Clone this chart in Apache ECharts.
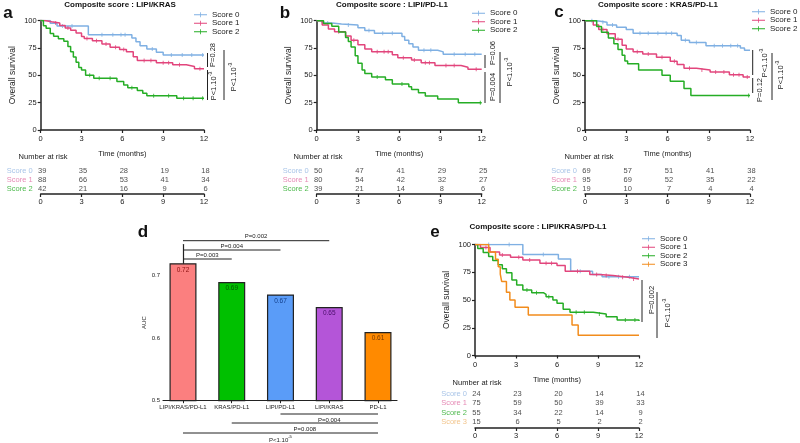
<!DOCTYPE html>
<html>
<head>
<meta charset="utf-8">
<script src="https://cdn.jsdelivr.net/npm/echarts@6/dist/echarts.min.js"></script>
<style>
  html, body { margin: 0; padding: 0; background: #fff; }
  #main { width: 800px; height: 443px; }
</style>
</head>
<body>
<div id="main"></div>
<script>
// ---- data ----
const timeTicks = [0, 3, 6, 9, 12];
const scoreNames = ['Score 0', 'Score 1', 'Score 2', 'Score 3'];

// a : LIPI/KRAS
const aTitle = 'Composite score : LIPI/KRAS';
const aCurve0 = [[0,100],[0.7,97.4],[1.2,94.9],[3.5,87],[6.7,84],[7.0,80.5],[7.3,77],[7.8,74],[8.5,71],[9.0,68.5],[12,68.5]];
const aCurve1 = [[0,100],[0.3,98.9],[0.8,97.7],[1.4,95.5],[1.8,93.2],[2.2,91],[2.6,88.5],[3.0,85.5],[3.2,83.5],[3.8,81.5],[4.5,78.5],[5.1,75.5],[5.8,73.5],[6.3,71.5],[6.8,67],[7.1,63.5],[8.5,61.5],[9.7,59.5],[10.7,58],[11.3,56],[12,56]];
const aCurve2 = [[0,100],[0.2,95.2],[0.4,92.9],[0.7,88.1],[0.95,85.7],[1.3,83.3],[1.7,81],[2.0,76.2],[2.2,71.4],[2.4,66.7],[2.6,61.9],[2.8,57.1],[3.0,54.8],[3.3,50],[3.9,47.2],[5.6,44.3],[6.1,41],[6.4,38.6],[7.1,36],[7.5,33.5],[7.8,31.3],[10.0,29],[12,29]];
const aCens0 = [1.6, 2.3, 4.5, 5.3, 5.9, 6.2, 8.2, 9.6, 10.4, 11.1, 11.9];
const aCens1 = [1.1, 2.0, 3.4, 4.1, 4.8, 5.5, 6.1, 7.6, 8.1, 9.0, 9.4, 10.2, 11.7];
const aCens2 = [3.6, 4.3, 5.1, 6.7, 8.3, 9.4, 10.5, 11.2, 11.9];
const aRisk0 = [39, 35, 28, 19, 18];
const aRisk1 = [88, 66, 53, 41, 34];
const aRisk2 = [42, 21, 16, 9, 6];

// b : LIPI/PD-L1
const bTitle = 'Composite score : LIPI/PD-L1';
const bCurve0 = [[0,100],[0.4,98],[1.1,97],[1.8,96],[3.0,93.5],[3.5,91],[4.2,88.5],[6.2,85.5],[6.4,82],[6.7,79],[7.0,76],[7.4,73],[8.8,71.5],[9.2,69.2],[12,69.2]];
const bCurve1 = [[0,100],[0.4,96],[0.85,92.5],[1.3,90],[2.1,86],[2.5,82],[3.0,78],[3.5,74],[4.0,71.5],[5.5,68.8],[5.9,66],[6.9,64],[7.6,61.5],[8.6,59],[10.5,57.5],[11.0,55.5],[12,55.5]];
const bCurve2 = [[0,100],[0.5,97.4],[1.1,94.9],[1.6,89.7],[2.1,84.6],[2.3,81],[2.5,76],[2.8,68],[3.0,61],[3.3,55],[3.5,51.8],[4.0,48.5],[5.0,46],[5.5,42],[6.7,39.5],[6.9,37],[7.4,34],[7.9,31],[8.8,28.4],[10.3,25],[12,25]];
const bCens0 = [0.8, 2.3, 3.8, 4.8, 5.5, 7.8, 8.3, 10.0, 10.8, 11.5];
const bCens1 = [1.6, 2.7, 4.4, 4.9, 5.2, 6.3, 7.1, 7.9, 8.2, 9.4, 10.0, 11.6];
const bCens2 = [4.4, 6.2, 11.9];
const bRisk0 = [50, 47, 41, 29, 25];
const bRisk1 = [80, 54, 42, 32, 27];
const bRisk2 = [39, 21, 14, 8, 6];

// c : KRAS/PD-L1
const cTitle = 'Composite score : KRAS/PD-L1';
const cCurve0 = [[0,100],[0.85,98.5],[1.6,96],[2.3,94],[3.0,92],[3.5,88.5],[6.7,86.5],[7.0,82],[7.6,80],[8.8,77],[11.3,75],[11.6,73],[12,73]];
const cCurve1 = [[0,100],[0.6,96],[1.0,92],[1.6,88],[2.2,83],[2.7,77.5],[3.0,74],[3.5,71.5],[4.2,69.5],[5.2,66.5],[6.2,63],[6.7,60],[7.2,56.5],[8.1,55],[9.1,53],[10.5,50.5],[11.5,48.5],[12,48.5]];
const cCurve2 = [[0,100],[0.85,94.7],[1.2,89.5],[1.7,84.2],[2.1,78.9],[2.4,73.7],[2.7,68.4],[2.9,63.2],[3.1,60.5],[3.9,55],[5.6,50],[6.2,44.5],[7.2,38],[7.7,31.5],[12,31.5]];
const cCens0 = [0.5, 1.3, 2.0, 4.0, 4.6, 5.3, 5.9, 6.3, 7.3, 8.1, 9.4, 10.0, 10.6, 11.1];
const cCens1 = [1.3, 2.4, 3.8, 4.6, 5.6, 6.5, 7.6, 8.5, 9.5, 10.1, 10.8, 11.2, 11.8];
const cCens2 = [11.9];
const cRisk0 = [69, 57, 51, 41, 38];
const cRisk1 = [95, 69, 52, 35, 22];
const cRisk2 = [19, 10, 7, 4, 4];

// d : AUC
const aucNames = ['LIPI/KRAS/PD-L1', 'KRAS/PD-L1', 'LIPI/PD-L1', 'LIPI/KRAS', 'PD-L1'];
const aucValues = [0.72, 0.69, 0.67, 0.65, 0.61];
const aucTicks = [0.5, 0.6, 0.7];
const aucTopPairs = [[0, 1], [0, 2], [0, 3]];
const aucTopP = ['P=0.003', 'P=0.004', 'P=0.002'];
const aucBottomPairs = [[2, 4], [1, 4], [0, 4]];
const aucBottomP = ['P=0.004', 'P=0.008', 'P<1.10^-5'];

// e : LIPI/KRAS/PD-L1
const eTitle = 'Composite score : LIPI/KRAS/PD-L1';
const eCurve0 = [[0,100],[3.5,91],[6.1,87],[7.0,76],[8.6,73],[9.3,71],[12,71]];
const eCurve1 = [[0,100],[0.4,97.3],[1.1,93.3],[1.8,90.5],[2.6,88.5],[3.5,86],[4.75,83],[6.0,81],[6.6,76],[8.4,73],[9.1,72],[10.1,70.5],[11.2,69],[12,69]];
const eCurve2 = [[0,100],[0.2,96.4],[0.6,92.7],[1.0,89.1],[1.3,85.5],[1.7,81.8],[2.0,78.2],[2.3,74.5],[2.7,68],[3.05,63.5],[3.5,59],[4.15,56.6],[5.0,55],[5.2,53],[5.7,50],[6.0,47],[6.45,41.6],[6.95,39],[8.65,37.4],[9.6,35],[10.4,32],[12,31]];
const eCurve3 = [[0,100],[1.0,93.3],[1.5,86.7],[1.7,80],[1.85,73.3],[1.95,66.7],[2.3,57],[2.55,50],[2.93,43.5],[3.9,36.5],[7.1,27.5],[7.55,18.3],[12,18.3]];
const eCens0 = [1.0, 2.5, 5.0, 7.7, 9.8, 10.5, 11.3];
const eCens1 = [0.8, 2.0, 3.2, 4.0, 5.2, 5.6, 7.5, 8.9, 9.6, 10.8, 11.6];
const eCens2 = [3.8, 4.5, 5.4, 7.4, 8.0, 9.1, 11.0, 11.7];
const eCens3 = [];
const eRisk0 = [24, 23, 20, 14, 14];
const eRisk1 = [75, 59, 50, 39, 33];
const eRisk2 = [55, 34, 22, 14, 9];
const eRisk3 = [15, 6, 5, 2, 2];

// ---- styles ----
const FONT = '"Liberation Sans", Arial, sans-serif';
const INK = '#222';
const lineColors = ['#7fb0e3', '#e2457c', '#25ad25', '#f28c1c'];
const riskLabelColors = ['#a9c5e8', '#e68bb6', '#4fba4f', '#f2c58c'];
const aucColors = ['#fb7f7f', '#00c000', '#5a9cf8', '#b455d8', '#ff8a00'];
const aucLabelColors = ['#8b1010', '#005a00', '#123e8a', '#4a0e6a', '#7a3a00'];
const legendIcon = 'path://M0,3.4h20v1.2h-20z M9.4,0h1.2v8h-1.2z';

function stepAt(curve, t) {
  let s = curve[0][1];
  curve.forEach(p => { if (p[0] <= t) s = p[1]; });
  return s;
}

const panels = [
  { title: aTitle, curves: [aCurve0, aCurve1, aCurve2], cens: [aCens0, aCens1, aCens2], risk: [aRisk0, aRisk1, aRisk2],
    km: { left: 40.7, top: 20.5, width: 163.3, height: 109.5 }, rb: { left: 40.7, top: 166, width: 163.3, height: 27 },
    legend: { left: 194, top: 10.5 }, titleX: 120, titleY: 5, letter: 'a', lx: 8, ly: 13, nar: [43, 157],
    pLines: [[207.5, 53, 67], [207.5, 70, 100], [224, 50, 100]],
    pTexts: [['P=0.28', 213, 55], ['P<1.10^-3', 213, 86], ['P<1.10^-3', 233, 77]] },
  { title: bTitle, curves: [bCurve0, bCurve1, bCurve2], cens: [bCens0, bCens1, bCens2], risk: [bRisk0, bRisk1, bRisk2],
    km: { left: 316.7, top: 20.7, width: 165, height: 109.3 }, rb: { left: 316.7, top: 166, width: 165, height: 27 },
    legend: { left: 472, top: 9 }, titleX: 392, titleY: 5, letter: 'b', lx: 285, ly: 13, nar: [318, 157],
    pLines: [[485, 55, 68], [485, 72, 103], [500, 52, 103]],
    pTexts: [['P=0.06', 493, 53], ['P=0.004', 493, 87], ['P<1.10^-3', 509, 72]] },
  { title: cTitle, curves: [cCurve0, cCurve1, cCurve2], cens: [cCens0, cCens1, cCens2], risk: [cRisk0, cRisk1, cRisk2],
    km: { left: 585, top: 20.7, width: 165, height: 109.3 }, rb: { left: 585, top: 166, width: 165, height: 27 },
    legend: { left: 752, top: 7.5 }, titleX: 658, titleY: 5, letter: 'c', lx: 559, ly: 12, nar: [589, 157],
    pLines: [[752.7, 50, 75], [752.7, 78, 93], [772, 53, 100]],
    pTexts: [['P<1.10^-3', 764, 63], ['P=0.12', 760, 90], ['P<1.10^-3', 780, 75]] },
  { title: eTitle, curves: [eCurve0, eCurve1, eCurve2, eCurve3], cens: [eCens0, eCens1, eCens2, eCens3], risk: [eRisk0, eRisk1, eRisk2, eRisk3],
    km: { left: 475, top: 244.5, width: 164, height: 111 }, rb: { left: 475, top: 389, width: 164, height: 38 },
    legend: { left: 642, top: 234.5 }, titleX: 538, titleY: 227, letter: 'e', lx: 435, ly: 232, nar: [477, 383],
    pLines: [[642, 280, 322], [657, 292, 338]],
    pTexts: [['P=0.002', 652, 300], ['P<1.10^-3', 667, 313]] }
];

const grid = [], xAxis = [], yAxis = [], series = [], legend = [];
const axisLineStyle = { show: true, onZero: false, lineStyle: { color: INK, width: 1.5 } };
const axisTickStyle = { show: true, length: 3, lineStyle: { color: INK, width: 1.2 } };

panels.forEach(p => {
  const n = p.curves.length;
  // survival plot
  grid.push(p.km);
  xAxis.push({ gridIndex: grid.length - 1, type: 'value', min: 0, max: 12, interval: 3,
    name: 'Time (months)', nameLocation: 'middle', nameGap: 20,
    nameTextStyle: { fontSize: 7.5, color: INK, fontFamily: FONT },
    axisLine: axisLineStyle, axisTick: axisTickStyle,
    axisLabel: { fontSize: 7.5, color: INK, margin: 5, fontFamily: FONT }, splitLine: { show: false } });
  yAxis.push({ gridIndex: grid.length - 1, type: 'value', min: 0, max: 100, interval: 25,
    name: 'Overall survival', nameLocation: 'middle', nameGap: 24,
    nameTextStyle: { fontSize: 8.5, color: INK, fontFamily: FONT },
    axisLine: axisLineStyle, axisTick: axisTickStyle,
    axisLabel: { fontSize: 7.5, color: INK, margin: 4, fontFamily: FONT }, splitLine: { show: false } });
  const xi = xAxis.length - 1, yi = yAxis.length - 1;
  p.curves.forEach((c, k) => {
    series.push({ type: 'line', name: scoreNames[k], xAxisIndex: xi, yAxisIndex: yi, step: 'end', data: c,
      showSymbol: false, symbol: 'none', z: 3 + k,
      lineStyle: { width: 1.5, color: lineColors[k] }, itemStyle: { color: lineColors[k] } });
    series.push({ type: 'scatter', name: 'censored', xAxisIndex: xi, yAxisIndex: yi, silent: true, z: 3 + k,
      data: p.cens[k].map(t => [t, stepAt(c, t)]),
      symbol: 'rect', symbolSize: [1, 4], itemStyle: { color: lineColors[k] } });
  });
  legend.push({ orient: 'vertical', left: p.legend.left, top: p.legend.top, padding: 0, itemGap: 0,
    itemWidth: 13, itemHeight: 7, icon: legendIcon, data: scoreNames.slice(0, n),
    textStyle: { fontSize: 8, lineHeight: 8.5, color: INK, fontFamily: FONT } });

  // number at risk table
  grid.push(p.rb);
  xAxis.push({ gridIndex: grid.length - 1, type: 'value', min: 0, max: 12, interval: 3, offset: 1,
    axisLine: axisLineStyle, axisTick: axisTickStyle,
    axisLabel: { fontSize: 7.5, color: INK, margin: 4, fontFamily: FONT }, splitLine: { show: false } });
  const rich = {};
  scoreNames.forEach((s, k) => { rich['s' + k] = { color: riskLabelColors[k], fontSize: 7.5, fontFamily: FONT }; });
  yAxis.push({ gridIndex: grid.length - 1, type: 'category', inverse: true, data: scoreNames.slice(0, n),
    axisLine: { show: false }, axisTick: { show: false }, splitLine: { show: false },
    axisLabel: { interval: 0, margin: 8, formatter: (v, i) => '{s' + i + '|' + v + '}', rich: rich } });
  const rows = [];
  p.risk.forEach((r, k) => r.forEach((v, j) => rows.push([timeTicks[j], scoreNames[k], v])));
  series.push({ type: 'scatter', xAxisIndex: xAxis.length - 1, yAxisIndex: yAxis.length - 1, silent: true,
    data: rows, symbolSize: 1, itemStyle: { color: 'rgba(0,0,0,0)' },
    label: { show: true, position: 'inside', offset: [1.5, 0], formatter: q => q.value[2], fontSize: 7.5, color: INK, fontFamily: FONT } });
});

// AUC bar chart
grid.push({ left: 163, top: 244.5, width: 234, height: 156.2 });
const barX = xAxis.length;
xAxis.push({ gridIndex: grid.length - 1, type: 'value', min: -0.41, max: 4.39,
  axisLine: { show: true, onZero: false, lineStyle: { color: INK, width: 1.2 } },
  axisTick: { show: true, length: 2.5, customValues: [0, 1, 2, 3, 4], lineStyle: { color: INK } },
  axisLabel: { fontSize: 6, color: INK, margin: 4, fontFamily: FONT, customValues: [0, 1, 2, 3, 4], formatter: v => aucNames[Math.round(v)] },
  splitLine: { show: false } });
yAxis.push({ gridIndex: grid.length - 1, type: 'value', min: 0.5, max: 0.75,
  name: 'AUC', nameLocation: 'middle', nameGap: 16,
  nameTextStyle: { fontSize: 6, color: INK, fontFamily: FONT },
  axisLine: { show: true, lineStyle: { color: INK, width: 1.2 } },
  axisTick: { show: true, length: 2.5, customValues: aucTicks, lineStyle: { color: INK } },
  axisLabel: { fontSize: 6, color: INK, margin: 3, fontFamily: FONT, customValues: aucTicks, formatter: v => v.toFixed(1) },
  splitLine: { show: false } });
series.push({ type: 'bar', xAxisIndex: barX, yAxisIndex: yAxis.length - 1, barWidth: 27,
  data: aucValues.map((v, i) => ({ value: [i, v],
    itemStyle: { color: aucColors[i], borderColor: INK, borderWidth: 1.2 },
    label: { color: aucLabelColors[i] } })),
  label: { show: true, position: 'insideTop', distance: 3, fontSize: 6.5, fontFamily: FONT, formatter: q => q.value[1].toFixed(2) } });

const chart = echarts.init(document.getElementById('main'));
chart.setOption({ animation: false, grid, xAxis, yAxis, series, legend, textStyle: { fontFamily: FONT } });

// ---- annotations ----
const graphic = [];
function addText(str, x, y, size, opts) {
  const parts = str.split('^');
  const text = parts.length === 1 ? str : '{b|' + parts[0] + '}{s|' + parts[1] + '}';
  graphic.push(Object.assign({ type: 'text', x: x, y: y, silent: true,
    style: { text: text, fontSize: size, fontFamily: FONT, fill: INK, align: 'center', verticalAlign: 'middle',
      rich: { b: { fontSize: size, fontFamily: FONT, fill: INK, lineHeight: size + 3, verticalAlign: 'bottom' },
              s: { fontSize: size * 0.7, fontFamily: FONT, fill: INK, verticalAlign: 'top' } } } }, opts || {}));
}
function addBold(str, x, y, size) {
  graphic.push({ type: 'text', x: x, y: y, silent: true,
    style: { text: str, fontSize: size, fontWeight: 'bold', fontFamily: FONT, fill: '#111', align: 'center', verticalAlign: 'middle' } });
}
function addLine(x1, y1, x2, y2, w) {
  graphic.push({ type: 'line', silent: true, shape: { x1, y1, x2, y2 }, style: { stroke: INK, lineWidth: w || 1 } });
}

panels.forEach(p => {
  addBold(p.title, p.titleX, p.titleY, 8);
  addBold(p.letter, p.lx, p.ly, 17);
  addText('Number at risk', p.nar[0], p.nar[1], 7.5);
  p.pLines.forEach(l => addLine(l[0], l[1], l[0], l[2], 1));
  p.pTexts.forEach(t => addText(t[0], t[1], t[2], 7.5, { rotation: Math.PI / 2 }));
});

addBold('d', 143, 232, 17);
const bx = i => chart.convertToPixel({ xAxisIndex: barX }, i);
const topY = [259, 250, 240.7];
aucTopPairs.forEach((pr, k) => {
  addLine(bx(pr[0]), topY[k], bx(pr[1]), topY[k], 1);
  addText(aucTopP[k], (bx(pr[0]) + bx(pr[1])) / 2, topY[k] - 4, 6);
});
const botY = [414, 423, 433];
aucBottomPairs.forEach((pr, k) => {
  addLine(bx(pr[0]), botY[k], bx(pr[1]), botY[k], 1);
  addText(aucBottomP[k], (bx(pr[0]) + bx(pr[1])) / 2, botY[k] + 6, 6);
});

chart.setOption({ graphic: graphic });
</script>
</body>
</html>
